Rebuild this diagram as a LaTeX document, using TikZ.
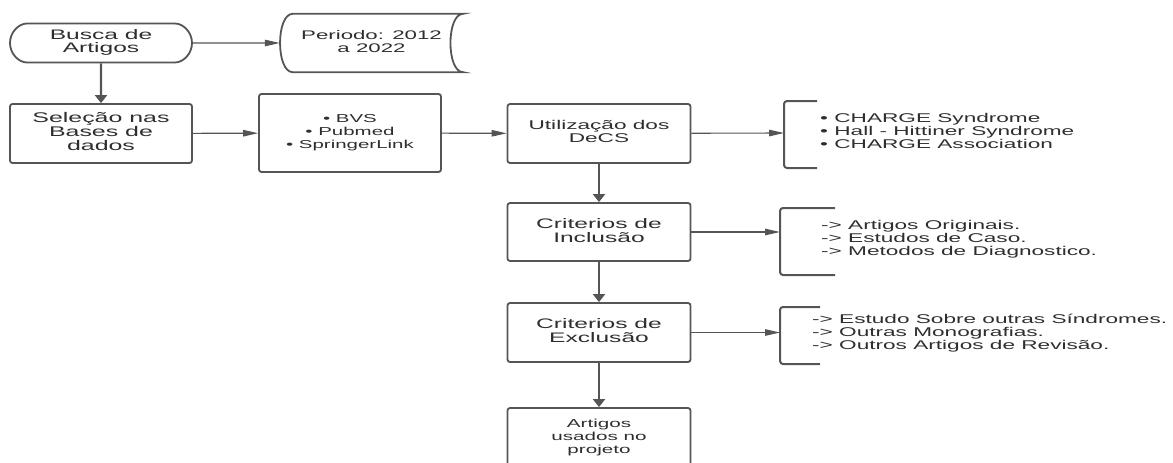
\documentclass[tikz,border=0pt]{standalone}
\usepackage{fontspec}
\setmainfont{Liberation Sans}
\usepackage{graphicx}
\usetikzlibrary{arrows.meta}
\usetikzlibrary{shapes.misc}
\definecolor{linha}{HTML}{555555}
\definecolor{texto}{HTML}{2E2E2E}
\newcommand{\largo}[2][c]{\scalebox{1.78}[1]{\begin{tabular}{@{}#1@{}}#2\end{tabular}}}

\begin{document}
\begin{tikzpicture}[x=1pt,y=-1pt,
    box/.style={rectangle,draw=linha,line width=1.8pt,rounded corners=2.5pt,minimum width=182pt,minimum height=59pt,inner sep=0pt,text=texto},
    lista/.style={anchor=west,inner sep=0pt,text=texto,font=\fontsize{12.7}{12.6}\selectfont},
    harr/.style={-{Triangle[length=15pt,width=6.5pt]},line width=1.1pt,draw=linha},
    varr/.style={-{Triangle[length=8pt,width=12pt]},line width=2.2pt,draw=linha},
    chave/.style={line width=2pt,draw=linha,rounded corners=3pt}]
  \useasboundingbox (0,0) rectangle (1173,463);
  % coluna da esquerda
  \node[box,rounded rectangle,minimum height=39pt,font=\fontsize{13.8}{13}\selectfont] (busca) at (101,43) {\largo{Busca de\\Artigos}};
  \node[inner sep=0pt,minimum width=183pt,minimum height=58pt,text=texto,font=\fontsize{12.5}{13}\selectfont] (periodo) at (371.5,43) {\largo{Periodo: 2012\\a 2022}};
  \node[box,font=\fontsize{14}{13.3}\selectfont] (sel) at (101,133.5) {\largo{Seleção nas\\Bases de\\dados}};
  \node[box,minimum height=78pt,font=\fontsize{11.5}{13}\selectfont] (bases) at (350,133) {\largo{• BVS\\• Pubmed\\• SpringerLink}};
  % coluna do meio
  \node[box,minimum width=183pt,font=\fontsize{12.7}{13}\selectfont] (decs) at (599,133.5) {\largo{Utilização dos\\DeCS}};
  \node[box,minimum width=183pt,minimum height=58pt,font=\fontsize{13.8}{13.3}\selectfont] (incl) at (599,232) {\largo{Criterios de\\Inclusão}};
  \node[box,minimum width=183pt,font=\fontsize{13.8}{13.3}\selectfont] (excl) at (599,332.5) {\largo{Criterios de\\Exclusão}};
  \node[box,minimum width=183pt,font=\fontsize{11.6}{13}\selectfont] (usados) at (599,437.5) {\largo{Artigos\\usados no\\projeto}};
  % chaves
  \coordinate (b1) at (784,133);
  \coordinate (b2) at (780,232);
  \coordinate (b3) at (780,332.5);
  \draw[chave] ([shift={(33,-32)}]b1) -- ++(-33,0) -- ++(0,67) -- ++(33,0);
  \draw[chave] ([shift={(55,-24)}]b2) -- ++(-55,0) -- ++(0,67) -- ++(55,0);
  \draw[chave] ([shift={(40,-25.5)}]b3) -- ++(-40,0) -- ++(0,57) -- ++(40,0);
  \node[lista] (l1) at (820,133) {\largo[l]{• CHARGE Syndrome\\• Hall - Hittiner Syndrome\\• CHARGE Association}};
  \node[lista] (l2) at (821,240) {\largo[l]{-> Artigos Originais.\\-> Estudos de Caso.\\-> Metodos de Diagnostico.}};
  \node[lista] (l3) at (812,333.5) {\largo[l]{-> Estudo Sobre outras Síndromes.\\-> Outras Monografias.\\-> Outros Artigos de Revisão.}};
  % armazenamento
  \draw[line width=1.8pt,linha] ([xshift=13pt]periodo.north west) -- (periodo.north east)
    .. controls ([xshift=-17pt]periodo.north east) and ([xshift=-17pt]periodo.south east) .. (periodo.south east)
    -- ([xshift=13pt]periodo.south west)
    .. controls ([xshift=-4pt]periodo.south west) and ([xshift=-4pt]periodo.north west) .. cycle;
  % setas
  \draw[harr] (busca) -- (periodo);
  \draw[varr] (busca) -- (sel);
  \draw[harr] (sel) -- (bases);
  \draw[harr] (bases) -- (decs);
  \draw[harr] (decs) -- (b1);
  \draw[varr] (decs) -- (incl);
  \draw[harr] (incl) -- (b2);
  \draw[varr] (incl) -- (excl);
  \draw[harr] (excl) -- (b3);
  \draw[varr] (excl) -- (usados);
\end{tikzpicture}
\end{document}
